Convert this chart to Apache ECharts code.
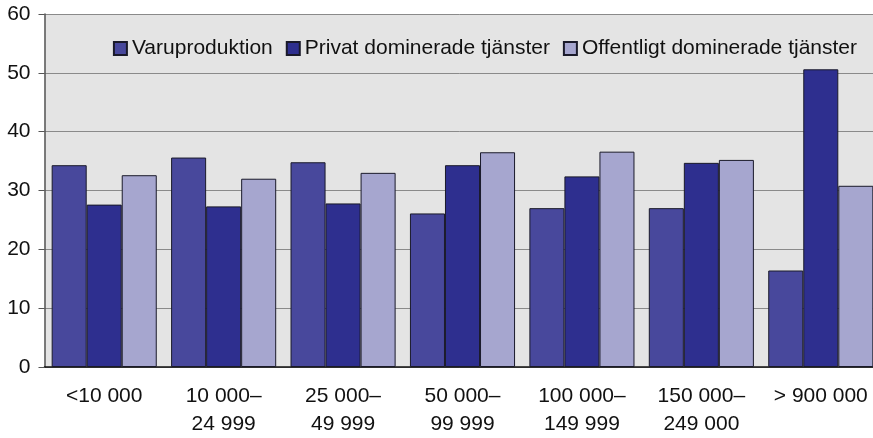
<!DOCTYPE html>
<html>
<head>
<meta charset="utf-8">
<script src="https://cdn.jsdelivr.net/npm/echarts@6/dist/echarts.min.js"></script>
<style>
  html, body { margin: 0; padding: 0; background: #fff; }
  #chart { width: 873px; height: 438px; }
</style>
</head>
<body>
<div id="chart"></div>
<script>
const categories = ['<10 000', '10 000–\n24 999', '25 000–\n49 999', '50 000–\n99 999', '100 000–\n149 999', '150 000–\n249 000', '> 900 000'];
const seriesNames = ['Varuproduktion', 'Privat dominerade tjänster', 'Offentligt dominerade tjänster'];
const varuproduktion = [34.3, 35.6, 34.8, 26.1, 27.0, 27.0, 16.4];
const privat = [27.6, 27.3, 27.8, 34.3, 32.4, 34.7, 50.6];
const offentligt = [32.6, 32.0, 33.0, 36.5, 36.6, 35.2, 30.8];
const yTicks = [0, 10, 20, 30, 40, 50, 60];

const colors = ['#48489c', '#2e2f8f', '#a6a6cf'];
const font = 'Liberation Sans, Arial, sans-serif';

const chart = echarts.init(document.getElementById('chart'), null, { renderer: 'canvas' });

function bar(name, data, color) {
  return {
    name: name,
    type: 'bar',
    data: data,
    barGap: '0%',
    barCategoryGap: '12%',
    itemStyle: { color: color, borderColor: '#1a1a2a', borderWidth: 1 },
    emphasis: { disabled: true },
  };
}

chart.setOption({
  animation: false,
  textStyle: { fontFamily: font },
  grid: {
    left: 44.5,
    width: 836,
    top: 14,
    bottom: 71,
    outerBoundsMode: 'none',
    containLabel: false,
    show: true,
    backgroundColor: '#e4e4e4',
    borderWidth: 0,
  },
  legend: {
    right: 11,
    top: 33,
    itemWidth: 13,
    itemHeight: 13,
    itemGap: 13,
    icon: 'rect',
    textStyle: { fontSize: 21, color: '#111', fontFamily: font },
    data: seriesNames,
  },
  xAxis: {
    type: 'category',
    data: categories,
    axisLine: { lineStyle: { color: '#111', width: 1.5 } },
    axisTick: { show: false },
    axisLabel: { interval: 0, fontSize: 21, color: '#111', lineHeight: 28, margin: 15, fontFamily: font },
  },
  yAxis: {
    type: 'value',
    min: yTicks[0],
    max: yTicks[yTicks.length - 1],
    interval: 10,
    axisLine: { show: true, lineStyle: { color: '#555', width: 1.5 } },
    axisTick: { show: true, length: 6, lineStyle: { color: '#555' } },
    axisLabel: { fontSize: 21, color: '#111', margin: 14, fontFamily: font },
    splitLine: { lineStyle: { color: '#8a8a8a', width: 1 } },
  },
  series: [
    bar(seriesNames[0], varuproduktion, colors[0]),
    bar(seriesNames[1], privat, colors[1]),
    bar(seriesNames[2], offentligt, colors[2]),
  ],
});
</script>
</body>
</html>
